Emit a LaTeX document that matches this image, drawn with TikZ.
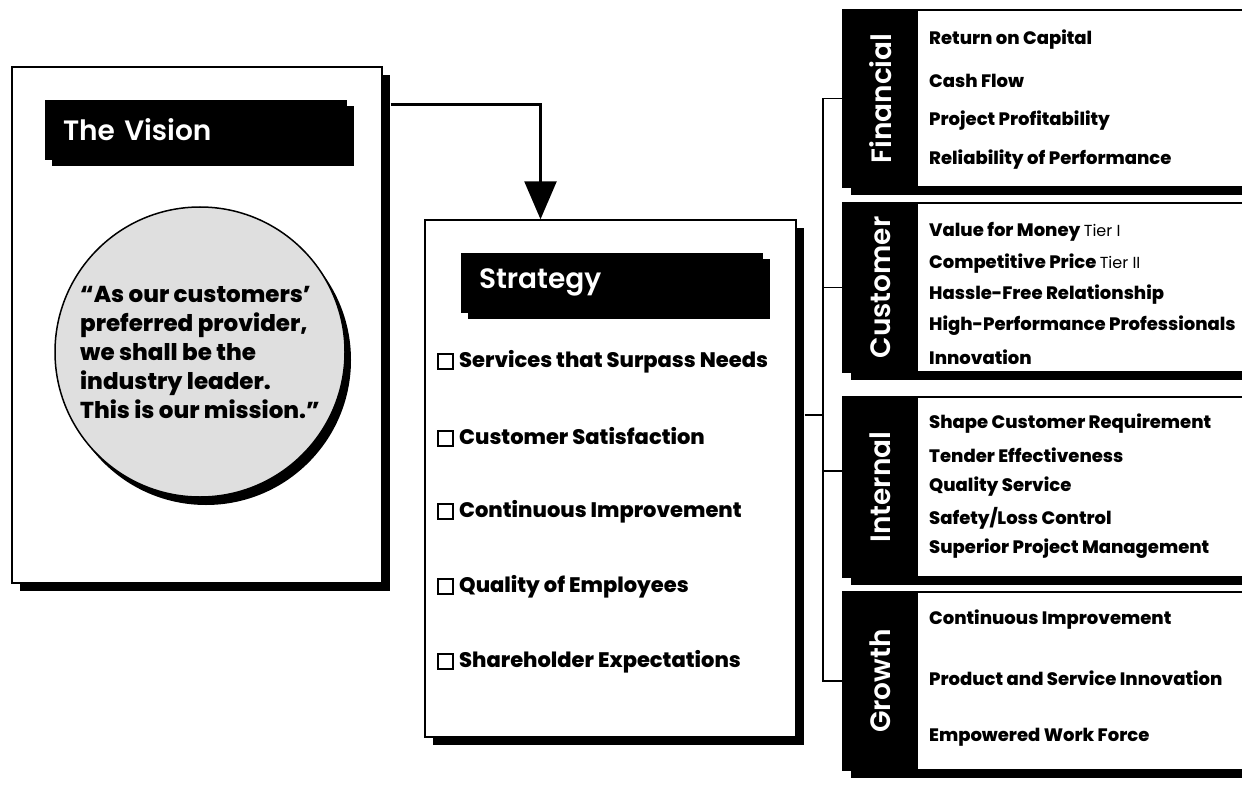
\documentclass[tikz,border=0pt]{standalone}
\usepackage{fontspec}
\setmainfont{Poppins}[BoldFont=* ExtraBold]
\newfontfamily\headfont{Poppins SemiBold}
\usetikzlibrary{arrows.meta,shadows}

\newcommand{\chk}{{\setlength{\fboxsep}{0pt}\setlength{\fboxrule}{2pt}\fbox{\rule{0pt}{13pt}\hspace{13pt}}}\hspace{5pt}}

\begin{document}
\begin{tikzpicture}[x=1pt,y=-1pt,>={Triangle[width=32pt,length=38pt]}]
  \tikzstyle{frame}=[draw,line width=1.4pt,fill=white,drop shadow={shadow xshift=8pt,shadow yshift=-8pt,fill=black,opacity=1}]
  \tikzstyle{head}=[fill=black,text=white,font=\headfont\fontsize{28}{32}\selectfont,inner xsep=18pt,minimum height=60pt,align=left,drop shadow={shadow xshift=7pt,shadow yshift=-6pt,fill=black,opacity=1}]
  \tikzstyle{tab}=[fill=black,text=white,rotate=90,minimum height=75pt,font=\headfont\fontsize{28}{32}\selectfont]
  \tikzstyle{item}=[anchor=west,inner sep=0pt,font=\bfseries\fontsize{21}{25}\selectfont]
  \tikzstyle{goal}=[anchor=west,inner sep=0pt,font=\bfseries\fontsize{18}{22}\selectfont]
  \tikzstyle{wire}=[line width=1.8pt]
  \useasboundingbox (0,0) rectangle (1242,805);

  % vision
  \node[frame,minimum width=370pt,minimum height=516pt] (vis) at (197,325) {};
  \node[head,text width=266pt] (vishead) at (196,130) {The Vision};
  \node[circle,draw,line width=1.5pt,fill=gray!25,minimum size=290pt,inner sep=0pt,align=left,
        font=\bfseries\fontsize{23}{29}\selectfont,
        drop shadow={shadow xshift=6pt,shadow yshift=-8pt,fill=black,opacity=1}] (mission) at (200,352)
        {“As our customers’\\preferred provider,\\we shall be the\\industry leader.\\This is our mission.”};

  % strategy
  \node[frame,minimum width=371pt,minimum height=517pt] (strat) at (610.5,478.5) {};
  \node[head,text width=266pt] (strathead) at (612,282.5) {Strategy};
  \foreach \y/\t [count=\i] in {362/Services that Surpass Needs,437/Customer Satisfaction,
      512/Continuous Improvement,587/Quality of Employees,662/Shareholder Expectations}
    \node[item] (s\i) at (437,\y) {\chk\t};

  % perspectives
  \node[frame,minimum width=414pt,minimum height=177pt] (fin) at (1050,98.5) {};
  \node[frame,minimum width=414pt,minimum height=169pt] (cus) at (1050,287.5) {};
  \node[frame,minimum width=414pt,minimum height=180pt] (int) at (1050,487) {};
  \node[frame,minimum width=414pt,minimum height=178pt] (gro) at (1050,681) {};
  \node[tab,minimum width=177pt] (fintab) at (880.5,98.5) {Financial};
  \node[tab,minimum width=169pt] (custab) at (880.5,287.5) {Customer};
  \node[tab,minimum width=180pt] (inttab) at (880.5,487) {Internal};
  \node[tab,minimum width=178pt] (grotab) at (880.5,681) {Growth};

  \foreach \y/\t [count=\i] in {40/Return on Capital,81/Cash Flow,121/Project Profitability,160/Reliability of Performance}
    \node[goal] (f\i) at (929,\y) {\t};
  \foreach \y/\t [count=\i] in {232/Value for Money {\mdseries\fontsize{16}{20}\selectfont Tier I},
      264/Competitive Price {\mdseries\fontsize{16}{20}\selectfont Tier II},295/Hassle-Free Relationship,
      326/High-Performance Professionals,357/Innovation}
    \node[goal] (c\i) at (929,\y) {\t};
  \foreach \y/\t [count=\i] in {424/Shape Customer Requirement,455/Tender Effectiveness,487/Quality Service,
      518/{Safety/Loss Control},549/Superior Project Management}
    \node[goal] (i\i) at (929,\y) {\t};
  \foreach \y/\t [count=\i] in {620/Continuous Improvement,678/Product and Service Innovation,737/Empowered Work Force}
    \node[goal] (g\i) at (929,\y) {\t};

  % links
  \draw[->,line width=2.5pt] ([shift={(8,38)}]vis.north east) -| ([xshift=-70pt]strat.north);
  \coordinate (bus) at (823,415);
  \draw[wire] ([xshift=8pt]strat.east |- bus) -- (bus);
  \draw[wire] (fintab.north) -- (bus |- fintab.north) -- (bus |- grotab.north) -- (grotab.north);
  \draw[wire] (custab.north) -- ++(-20,0);
  \draw[wire] ([yshift=16pt]inttab.north) -- ++(-20,0);
\end{tikzpicture}
\end{document}
